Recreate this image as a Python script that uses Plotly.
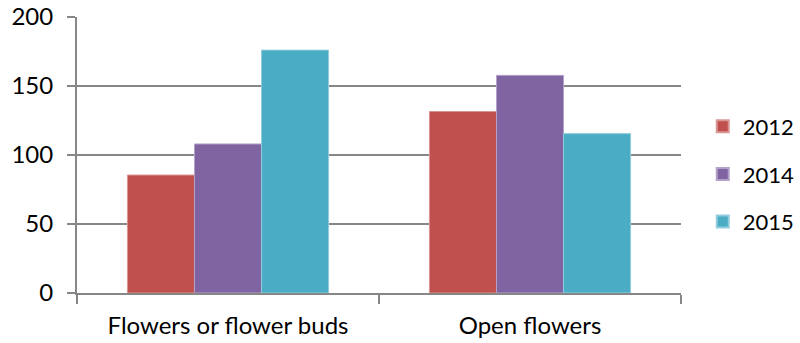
import plotly.graph_objects as go

categories = ["Flowers or flower buds", "Open flowers"]
years = ["2012", "2014", "2015"]
values_2012 = [85.5, 131.5]
values_2014 = [108, 157.7]
values_2015 = [176, 115.5]
series_values = [values_2012, values_2014, values_2015]
colors = ["#C0504D", "#8064A2", "#4BACC6"]
edge_colors = ["#D99694", "#B3A2C7", "#93CDDD"]

y_ticks = [0, 50, 100, 150, 200]

FONT = "Lato"
GRID = "#878787"

fig = go.Figure()
for i, (name, vals) in enumerate(zip(years, series_values)):
    fig.add_trace(go.Bar(
        x=categories,
        y=vals,
        name=name,
        legendgroup=name,
        marker=dict(color=colors[i], line=dict(color=edge_colors[i], width=1)),
    ))

fig.update_layout(
    width=800,
    height=343,
    margin=dict(l=77, r=119, t=17, b=50, autoexpand=False),
    paper_bgcolor="white",
    plot_bgcolor="white",
    barmode="group",
    bargap=0.334,
    bargroupgap=0,
    font=dict(family=FONT, size=24, color="black"),
    showlegend=True,
    legend=dict(
        x=1.036,
        xanchor="left",
        y=0.431,
        yanchor="middle",
        traceorder="grouped",
        tracegroupgap=16,
        font=dict(family=FONT, size=22, color="black"),
        itemsizing="constant",
    ),
    xaxis=dict(
        type="category",
        automargin=False,
        showgrid=False,
        showline=True,
        linecolor=GRID,
        linewidth=2,
        ticks="outside",
        tickson="boundaries",
        ticklen=9,
        tickwidth=2,
        tickcolor=GRID,
        ticklabelstandoff=10,
    ),
    yaxis=dict(
        range=[0, 200],
        automargin=False,
        tickvals=y_ticks,
        showgrid=True,
        gridcolor=GRID,
        gridwidth=2,
        showline=True,
        linecolor=GRID,
        linewidth=2,
        ticks="outside",
        ticklen=8,
        tickwidth=2,
        tickcolor=GRID,
        ticklabelstandoff=9,
        zeroline=False,
    ),
)

fig.write_html("out.html")
